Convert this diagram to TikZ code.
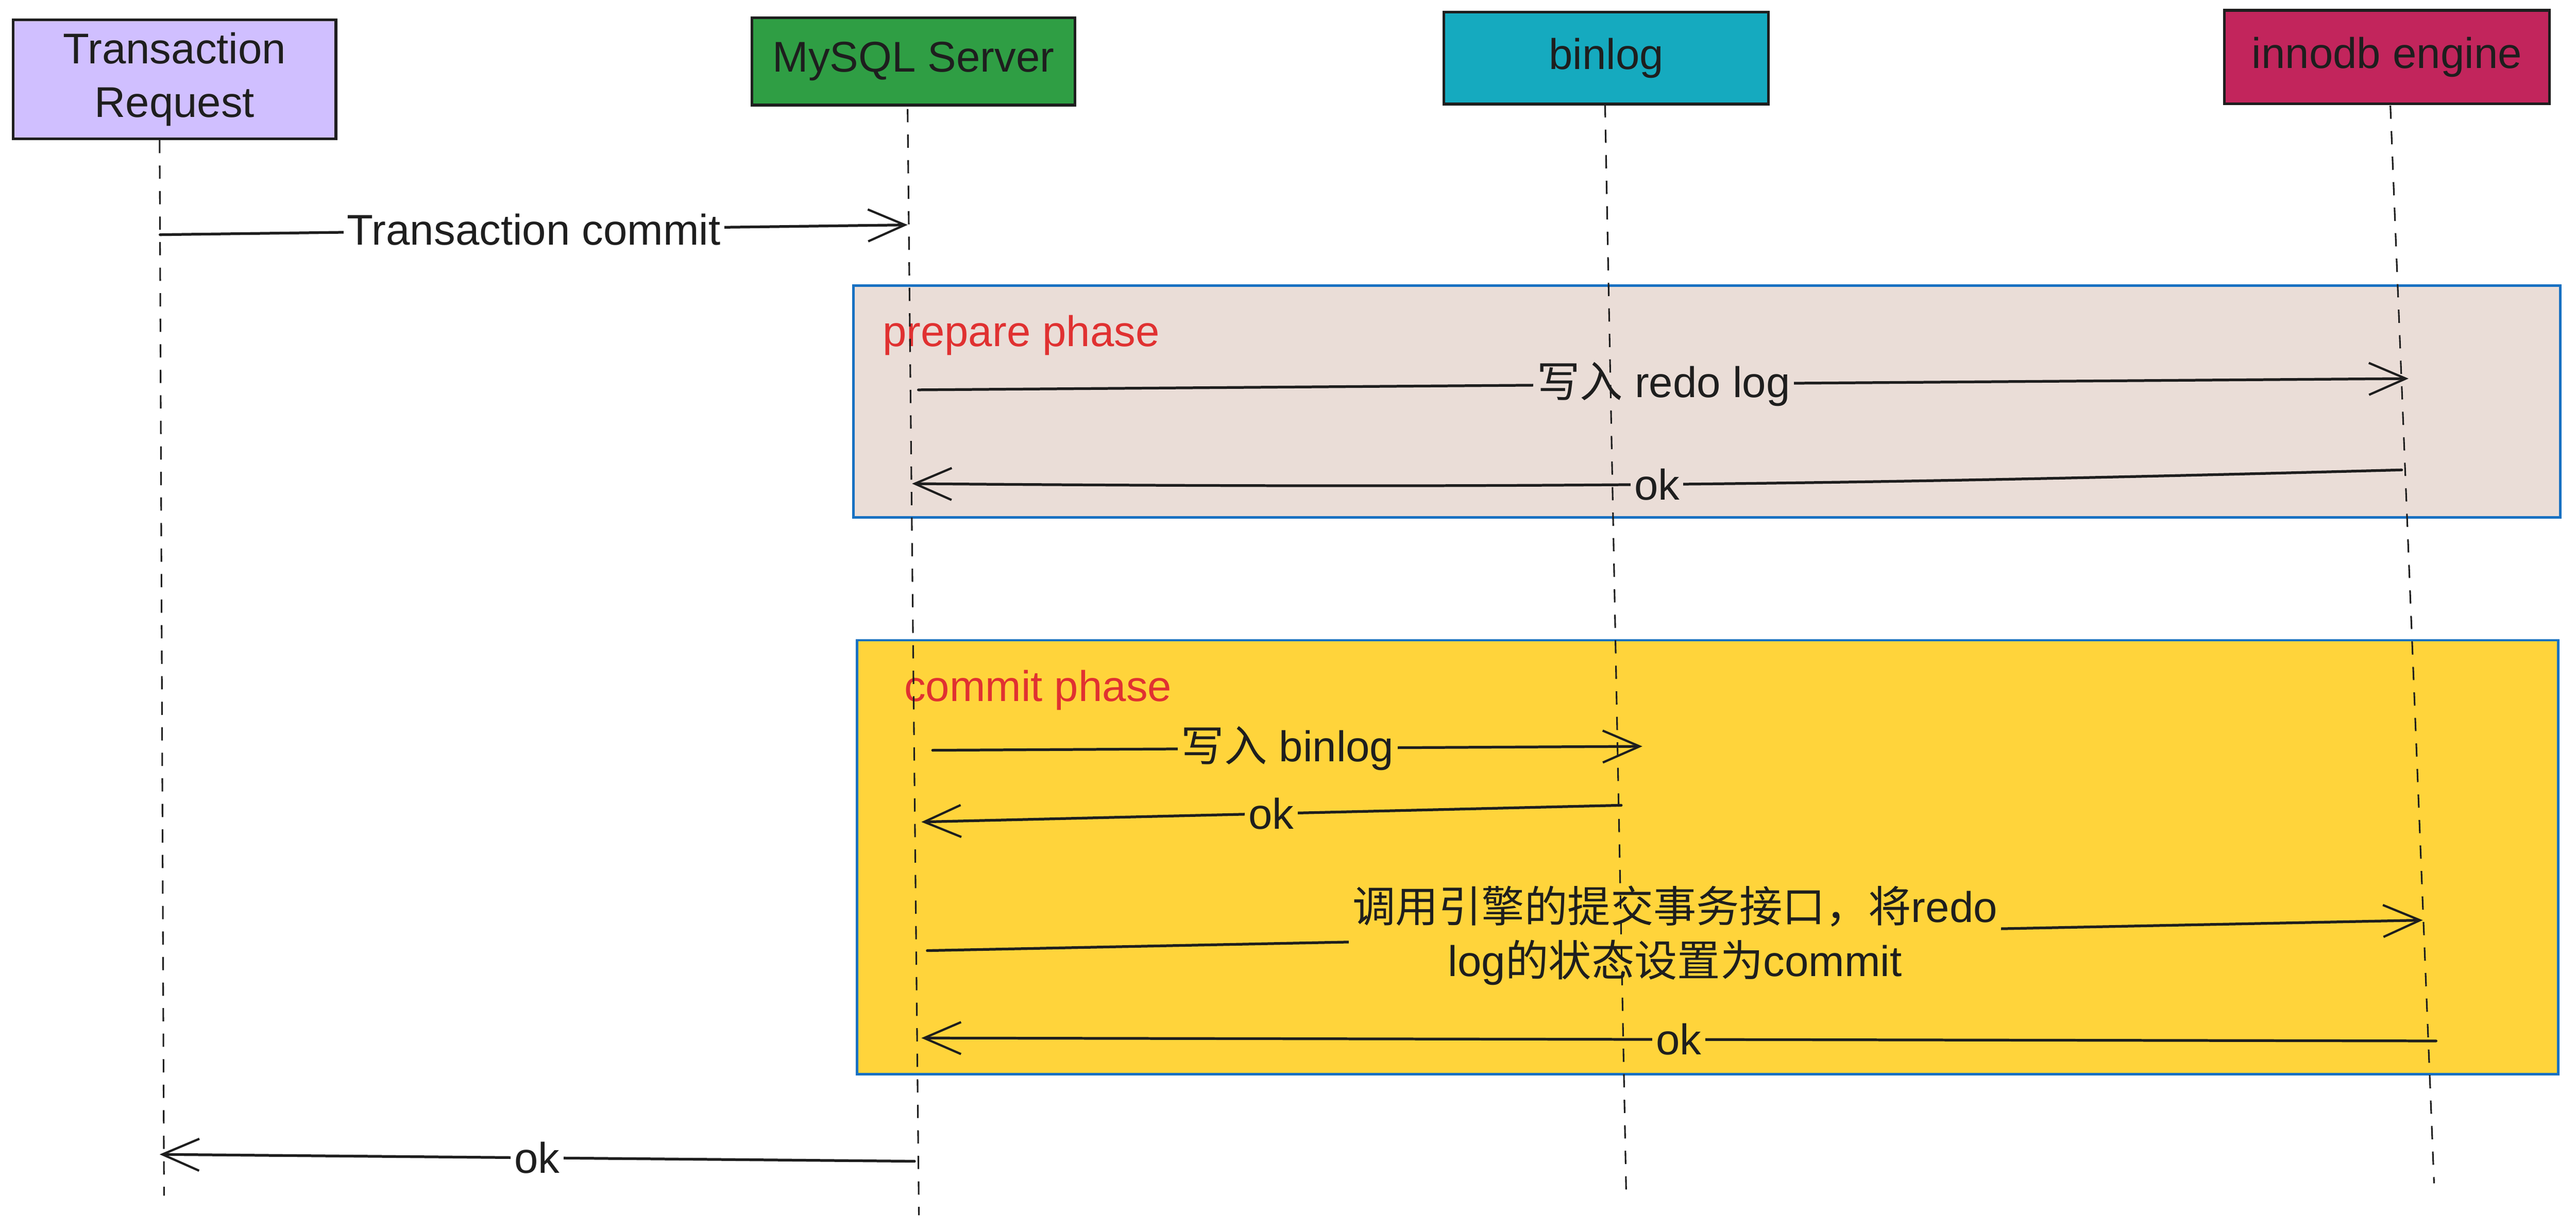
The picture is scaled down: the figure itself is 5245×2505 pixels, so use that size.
\documentclass[tikz,border=0pt]{standalone}
\usepackage{fontspec}
\setmainfont{Liberation Sans}
\newfontfamily\cjk{Noto Sans CJK SC}
\usetikzlibrary{arrows.meta}
\definecolor{ink}{HTML}{1E1E1E}
\definecolor{trfill}{HTML}{D0BFFF}
\definecolor{msfill}{HTML}{2F9E44}
\definecolor{blfill}{HTML}{15AABF}
\definecolor{infill}{HTML}{C2255C}
\definecolor{prepfill}{HTML}{EADDD7}
\definecolor{commfill}{HTML}{FFD43B}
\definecolor{phaseblue}{HTML}{1971C2}
\definecolor{phasered}{HTML}{E03131}
\begin{document}
\begin{tikzpicture}[x=0.2pt,y=-0.2pt,
  actor/.style={draw=ink, line width=1.1pt, inner sep=0pt, align=center, text=ink,
    font=\fontsize{17.5}{22}\selectfont},
  phasebox/.style={draw=phaseblue, line width=1pt, inner sep=0pt},
  phaselbl/.style={anchor=west, text=phasered, inner sep=0pt, font=\fontsize{17.5}{20}\selectfont},
  life/.style={draw=ink, line width=0.65pt, dash pattern=on 5.4pt off 5pt},
  msg/.style={draw=ink, line width=1.1pt, line cap=round,
    -{Straight Barb[length=15pt,width=13pt,line width=0.9pt]}},
  lbl/.style={text=ink, inner xsep=1.5pt, inner ysep=0pt, align=center,
    font=\fontsize{17.5}{22}\selectfont}
]
\useasboundingbox (0,0) rectangle (5245,2505);
\fill[white] (0,0) rectangle (5245,2505);

% phase boxes
\node[phasebox, fill=prepfill, minimum width=695pt, minimum height=94.4pt] (prepbox) at (3475.5,818) {};
\node[phasebox, fill=commfill, minimum width=692.8pt, minimum height=176.8pt] (commbox) at (3477,1746) {};
\node[phaselbl] (preplbl) at (1796,683) {prepare phase};
\node[phaselbl] (commlbl) at (1840,1406) {commit phase};

% lifeline coordinates
\coordinate (trtop) at (325,285);
\coordinate (trbot) at (334,2435);
\coordinate (mstop) at (1848,222);
\coordinate (msbot) at (1871,2475);
\coordinate (bltop) at (3268,212);
\coordinate (blbot) at (3311,2425);
\coordinate (intop) at (4867,215);
\coordinate (inbot) at (4956,2410);

% message end points
\coordinate (m1s) at (326,478);   \coordinate (m1e) at (1848,458);
\coordinate (m2s) at (1870,794);  \coordinate (m2e) at (4904,771);
\coordinate (m3s) at (4890,957);  \coordinate (m3e) at (1857,985);
\coordinate (m4s) at (1899,1528); \coordinate (m4e) at (3344,1520);
\coordinate (m5s) at (3301,1640); \coordinate (m5e) at (1876,1674);
\coordinate (m6s) at (1888,1936); \coordinate (m6e) at (4933,1874);
\coordinate (m7s) at (4960,2120); \coordinate (m7e) at (1876,2114);
\coordinate (m8s) at (1862,2365); \coordinate (m8e) at (325,2351);

% messages
\draw[msg] (m1s) -- node[lbl, fill=white] (l1) {Transaction commit} (m1e);
\draw[msg] (m2s) -- node[lbl, fill=prepfill] (l2) {{\cjk 写入} redo log} (m2e);
\draw[msg] (m3s) to[bend left=1] node[lbl, fill=prepfill] (l3) {ok} (m3e);
\draw[msg] (m4s) -- node[lbl, fill=commfill] (l4) {{\cjk 写入} binlog} (m4e);
\draw[msg] (m5s) -- node[lbl, fill=commfill] (l5) {ok} (m5e);
\draw[msg] (m6s) -- node[lbl, fill=commfill] (l6) {{\cjk 调用引擎的提交事务接口，将}redo\\log{\cjk 的状态设置为}commit} (m6e);
\draw[msg] (m7s) -- node[lbl, fill=commfill] (l7) {ok} (m7e);
\draw[msg] (m8s) -- node[lbl, fill=white] (l8) {ok} (m8e);

% lifelines
\draw[life] (trtop) -- (trbot);
\draw[life] (mstop) -- (msbot);
\draw[life] (bltop) -- (blbot);
\draw[life] (intop) -- (inbot);

% participants
\node[actor, fill=trfill, minimum width=131.4pt, minimum height=48.6pt] (trbox) at (355.5,161.5) {Transaction\\Request};
\node[actor, fill=msfill, minimum width=131.6pt, minimum height=35.6pt] (msbox) at (1860,125) {MySQL Server};
\node[actor, fill=blfill, minimum width=132.2pt, minimum height=37.4pt] (blbox) at (3270.5,118.5) {binlog};
\node[actor, fill=infill, minimum width=132.4pt, minimum height=38pt] (inbox) at (4860,116) {innodb engine};
\end{tikzpicture}
\end{document}
